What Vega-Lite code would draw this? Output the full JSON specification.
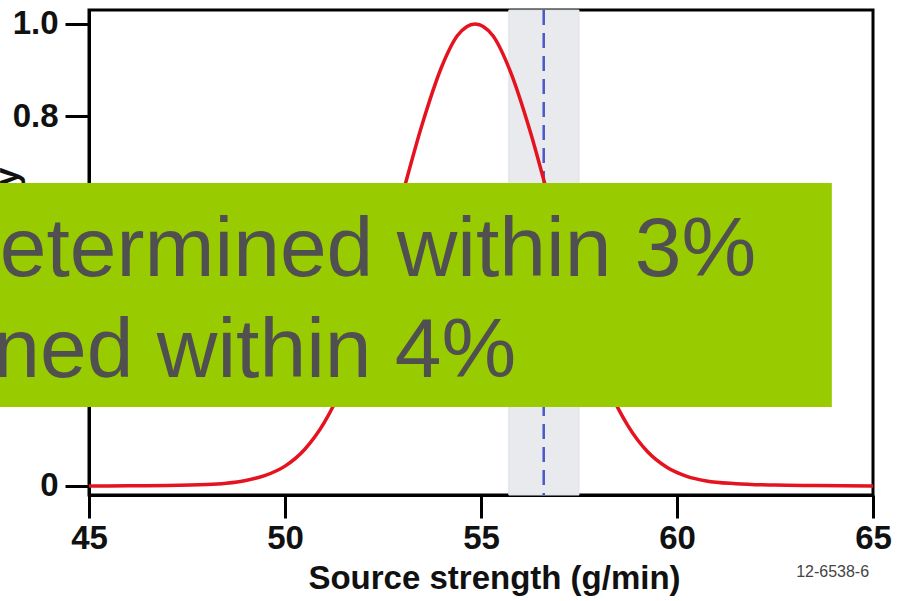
{
  "$schema": "https://vega.github.io/schema/vega-lite/v6.json",
  "autosize": "none",
  "width": 784,
  "height": 485,
  "padding": {"left": 89, "top": 10, "right": 29, "bottom": 106},
  "background": "white",
  "config": {
    "view": {"stroke": "#000000", "strokeWidth": 3},
    "axis": {
      "grid": false,
      "labelFont": "Liberation Sans",
      "labelFontSize": 33,
      "labelFontWeight": "bold",
      "labelColor": "#111111",
      "titleFont": "Liberation Sans",
      "titleFontSize": 33,
      "titleFontWeight": "bold",
      "titleColor": "#111111",
      "domainColor": "#000000",
      "domainWidth": 3,
      "tickColor": "#000000",
      "tickWidth": 3,
      "labelFlush": false,
      "labelOverlap": false,
      "labelBound": false
    }
  },
  "datasets": {
    "curve": [
      {"x": 45, "p": 0.0},
      {"x": 46, "p": 0.0005},
      {"x": 47, "p": 0.001},
      {"x": 48, "p": 0.003},
      {"x": 48.5, "p": 0.006},
      {"x": 49, "p": 0.012},
      {"x": 49.5, "p": 0.023},
      {"x": 50, "p": 0.043},
      {"x": 50.5, "p": 0.079},
      {"x": 51, "p": 0.137},
      {"x": 51.5, "p": 0.222},
      {"x": 52, "p": 0.336},
      {"x": 52.5, "p": 0.477},
      {"x": 53, "p": 0.632},
      {"x": 53.5, "p": 0.783},
      {"x": 54, "p": 0.908},
      {"x": 54.4, "p": 0.975},
      {"x": 54.85, "p": 1.0},
      {"x": 55.3, "p": 0.975},
      {"x": 55.75, "p": 0.897},
      {"x": 56.25, "p": 0.769},
      {"x": 56.75, "p": 0.616},
      {"x": 57.25, "p": 0.462},
      {"x": 57.75, "p": 0.323},
      {"x": 58.25, "p": 0.212},
      {"x": 58.75, "p": 0.13},
      {"x": 59.25, "p": 0.074},
      {"x": 59.75, "p": 0.04},
      {"x": 60.25, "p": 0.021},
      {"x": 60.75, "p": 0.011},
      {"x": 61.5, "p": 0.005},
      {"x": 62.5, "p": 0.002},
      {"x": 63.5, "p": 0.001},
      {"x": 65, "p": 0.0}
    ],
    "band": [{"lo": 55.71, "hi": 57.5, "mean": 56.6}],
    "overlay": [{"line1": "etermined within 3%", "line2": "ned within 4%", "code": "12-6538-6"}]
  },
  "layer": [
    {
      "data": {"name": "band"},
      "mark": {"type": "rect", "color": "#e8eaed", "stroke": "#dde1e4", "strokeWidth": 1},
      "encoding": {
        "x": {"field": "lo", "type": "quantitative", "scale": {"domain": [45, 65], "nice": false, "zero": false},
          "axis": {"values": [45, 50, 55, 60, 65], "format": "d", "tickSize": 23, "labelPadding": 4,
            "title": "Source strength (g/min)", "titleX": 405, "titleY": 93, "titleBaseline": "alphabetic", "titleAlign": "center"}},
        "x2": {"field": "hi"}
      }
    },
    {
      "data": {"name": "band"},
      "mark": {"type": "rule", "color": "#4a58c8", "strokeWidth": 2.5, "strokeDash": [15, 8]},
      "encoding": {
        "x": {"field": "mean", "type": "quantitative", "scale": {"domain": [45, 65], "nice": false, "zero": false}}
      }
    },
    {
      "data": {"name": "curve"},
      "mark": {"type": "line", "color": "#e5121f", "strokeWidth": 3.5, "interpolate": "monotone"},
      "encoding": {
        "x": {"field": "x", "type": "quantitative", "scale": {"domain": [45, 65], "nice": false, "zero": false}},
        "y": {"field": "p", "type": "quantitative", "scale": {"domain": [-0.0195, 1.0303], "nice": false, "zero": false},
          "axis": {"values": [0, 0.2, 0.4, 0.6, 0.8, 1.0], "labelExpr": "datum.value == 0 ? '0' : format(datum.value, '.1f')",
            "tickSize": 24, "labelPadding": 7, "title": "Probability", "titleX": -72, "titleY": 242.5, "titleBaseline": "alphabetic", "titleAlign": "center"}}
      }
    },
    {
      "data": {"name": "overlay"},
      "mark": {"type": "rect", "color": "#99cc00", "opacity": 1},
      "encoding": {
        "x": {"datum": 40, "type": "quantitative", "scale": {"domain": [45, 65], "nice": false, "zero": false}},
        "x2": {"datum": 63.95},
        "y": {"datum": 0.171, "type": "quantitative", "scale": {"domain": [-0.0195, 1.0303], "nice": false, "zero": false}},
        "y2": {"datum": 0.656}
      }
    },
    {
      "data": {"name": "overlay"},
      "mark": {"type": "text", "align": "right", "baseline": "alphabetic", "font": "Liberation Sans", "fontSize": 84, "color": "#505050"},
      "encoding": {
        "x": {"datum": 62.02, "type": "quantitative"},
        "y": {"datum": 0.4545, "type": "quantitative"},
        "text": {"field": "line1"}
      }
    },
    {
      "data": {"name": "overlay"},
      "mark": {"type": "text", "align": "right", "baseline": "alphabetic", "font": "Liberation Sans", "fontSize": 84, "color": "#505050"},
      "encoding": {
        "x": {"datum": 55.9, "type": "quantitative"},
        "y": {"datum": 0.236, "type": "quantitative"},
        "text": {"field": "line2"}
      }
    },
    {
      "data": {"name": "overlay"},
      "mark": {"type": "text", "align": "right", "baseline": "alphabetic", "font": "Liberation Sans", "fontSize": 16, "color": "#444444"},
      "encoding": {
        "x": {"datum": 64.9, "type": "quantitative"},
        "y": {"datum": -0.197, "type": "quantitative"},
        "text": {"field": "code"}
      }
    }
  ]
}
